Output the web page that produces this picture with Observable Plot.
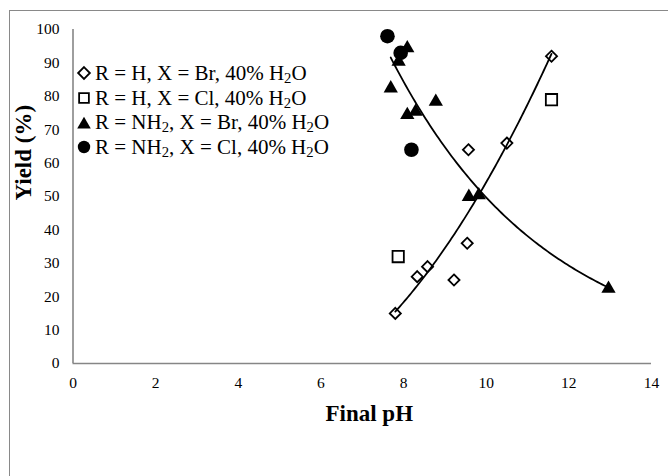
<!DOCTYPE html>
<html><head><meta charset="utf-8">
<script src="https://cdn.jsdelivr.net/npm/d3@7"></script>
<script src="https://cdn.jsdelivr.net/npm/@observablehq/plot@0.6"></script>
<style>
html,body{margin:0;padding:0;background:#fff;}
#wrap{position:relative;width:668px;height:476px;overflow:hidden;font-family:"Liberation Serif","Times New Roman",serif;}
#frame{position:absolute;left:9px;top:10px;width:800px;height:600px;border-left:1.3px solid #898989;border-top:1.3px solid #898989;}
#chart{position:absolute;left:0;top:0;}
#chart svg, #chart svg text{font-family:"Liberation Serif","Times New Roman",serif !important;}
#legend{position:absolute;left:76px;top:61px;font-size:21px;color:#000;}
.row{display:flex;align-items:center;height:24.7px;white-space:nowrap;}
.row svg{width:16px;height:16px;margin-right:3px;flex:none;}
sub{font-size:0.7em;vertical-align:-0.22em;line-height:0;}
</style></head><body>
<div id="wrap"><div id="frame"></div><div id="chart"></div><div id="legend"></div></div>
<script>
// ---- data ----
const xTicks = [0, 2, 4, 6, 8, 10, 12, 14];
const yTicks = [0, 10, 20, 30, 40, 50, 60, 70, 80, 90, 100];

const hBrPH    = [7.8, 8.33, 8.58, 9.22, 9.54, 9.57, 10.5, 11.58];
const hBrYield = [15, 26, 29, 25, 36, 64, 66, 92];

const hClPH    = [7.87, 11.58];
const hClYield = [32, 79];

const nBrPH    = [7.69, 7.88, 8.09, 8.09, 8.29, 8.78, 9.58, 9.82, 12.96];
const nBrYield = [83, 91, 95, 75, 76, 79, 50.5, 51, 23];

const nClPH    = [7.61, 7.93, 8.19];
const nClYield = [98, 93, 64];

const seriesNames = [
  "R = H, X = Br, 40% H<sub>2</sub>O",
  "R = H, X = Cl, 40% H<sub>2</sub>O",
  "R = NH<sub>2</sub>, X = Br, 40% H<sub>2</sub>O",
  "R = NH<sub>2</sub>, X = Cl, 40% H<sub>2</sub>O"
];

// ---- build tables ----
const zip = (xs, ys) => xs.map((x, i) => ({x, y: ys[i]}));
const hBr = zip(hBrPH, hBrYield);
const hCl = zip(hClPH, hClYield);
const nBr = zip(nBrPH, nBrYield);
const nCl = zip(nClPH, nClYield);

// trendlines: polynomial (order 2) for R=H,X=Br ; exponential for R=NH2,X=Br
function polyFit2(xs, ys) {
  const n = xs.length;
  let s = [0,0,0,0,0], t = [0,0,0];
  for (let i = 0; i < n; i++) {
    let p = 1;
    for (let k = 0; k < 5; k++) { s[k] += p; if (k < 3) t[k] += p * ys[i]; p *= xs[i]; }
  }
  const A = [[s[0],s[1],s[2],t[0]],[s[1],s[2],s[3],t[1]],[s[2],s[3],s[4],t[2]]];
  for (let c = 0; c < 3; c++) {
    for (let r = c + 1; r < 3; r++) {
      const f = A[r][c] / A[c][c];
      for (let k = c; k < 4; k++) A[r][k] -= f * A[c][k];
    }
  }
  const b = [0,0,0];
  for (let r = 2; r >= 0; r--) {
    let v = A[r][3];
    for (let k = r + 1; k < 3; k++) v -= A[r][k] * b[k];
    b[r] = v / A[r][r];
  }
  return x => b[0] + b[1] * x + b[2] * x * x;
}
function expFit(xs, ys) {
  const ly = ys.map(Math.log);
  const mx = d3.mean(xs), my = d3.mean(ly);
  let sxx = 0, sxy = 0;
  xs.forEach((x, i) => { sxx += (x - mx) ** 2; sxy += (x - mx) * (ly[i] - my); });
  const b = sxy / sxx, a = my - b * mx;
  return x => Math.exp(a + b * x);
}
function sample(f, x0, x1) {
  return d3.range(0, 101).map(i => { const x = x0 + (x1 - x0) * i / 100; return {x, y: f(x)}; });
}
const fitUp = sample(polyFit2(hBrPH, hBrYield), d3.min(hBrPH), d3.max(hBrPH));
const fitDown = sample(expFit(nBrPH, nBrYield), d3.min(nBrPH), d3.max(nBrPH));

const font = "'Liberation Serif', 'Times New Roman', serif";

const chart = Plot.plot({
  width: 668, height: 476,
  marginLeft: 72.5, marginRight: 17, marginTop: 29, marginBottom: 113,
  style: {fontFamily: font, background: "transparent", overflow: "visible", color: "#000"},
  x: {domain: [0, 14]},
  y: {domain: [0, 100]},
  marks: [
    Plot.axisX({ticks: xTicks, tickSize: 0, tickPadding: 13, fontSize: 15.5, fontFamily: font, label: null, fill: "#000"}),
    Plot.axisY({ticks: yTicks, tickSize: 0, tickPadding: 13.5, fontSize: 15.5, fontFamily: font, label: null, fill: "#000"}),
    Plot.ruleY([0], {stroke: "#868686", strokeWidth: 1.6}),
    Plot.ruleX([0], {stroke: "#868686", strokeWidth: 1.6}),
    Plot.dot(hBr, {x: "x", y: "y", symbol: "diamond2", r: 5, stroke: "#000", strokeWidth: 1.8, fill: "#fff"}),
    Plot.dot(hCl, {x: "x", y: "y", symbol: "square2", r: 7.2, stroke: "#000", strokeWidth: 1.8, fill: "#fff"}),
    Plot.dot(nBr, {x: "x", y: "y", symbol: "triangle", r: 5.3, fill: "#000", stroke: "none", dy: 2}),
    Plot.dot(nCl, {x: "x", y: "y", symbol: "circle", r: 7.3, fill: "#000", stroke: "none"}),
    Plot.line(fitUp, {x: "x", y: "y", stroke: "#000", strokeWidth: 1.8}),
    Plot.line(fitDown, {x: "x", y: "y", stroke: "#000", strokeWidth: 1.8}),
    Plot.text(["Final pH"], {frameAnchor: "bottom", dx: 7, dy: 50, lineAnchor: "middle", fontSize: 23, fontWeight: "bold", fontFamily: font, fill: "#000"}),
    Plot.text(["Yield (%)"], {frameAnchor: "left", dx: -49.5, dy: 4, rotate: -90, lineAnchor: "middle", fontSize: 23, fontWeight: "bold", fontFamily: font, fill: "#000"})
  ]
});
document.getElementById("chart").appendChild(chart);

// legend
const legendSymbols = [
  {sym: d3.symbolDiamond2, size: 9.4 * 9.4, fill: "#fff", stroke: "#000"},
  {sym: d3.symbolSquare2, size: 11 * 11, fill: "#fff", stroke: "#000"},
  {sym: d3.symbolTriangle, size: 80, fill: "#000", stroke: "none", dy: 1.5},
  {sym: d3.symbolCircle, size: Math.PI * 6.2 * 6.2, fill: "#000", stroke: "none"}
];
const legend = d3.select("#legend");
seriesNames.forEach((name, i) => {
  const s = legendSymbols[i];
  const row = legend.append("div").attr("class", "row");
  const svg = row.append("svg").attr("viewBox", "-8 -8 16 16");
  svg.append("path")
    .attr("d", d3.symbol(s.sym, s.size)())
    .attr("transform", `translate(0,${s.dy || 0})`)
    .attr("fill", s.fill).attr("stroke", s.stroke).attr("stroke-width", 1.8);
  row.append("span").html(name);
});
</script>
</body></html>
